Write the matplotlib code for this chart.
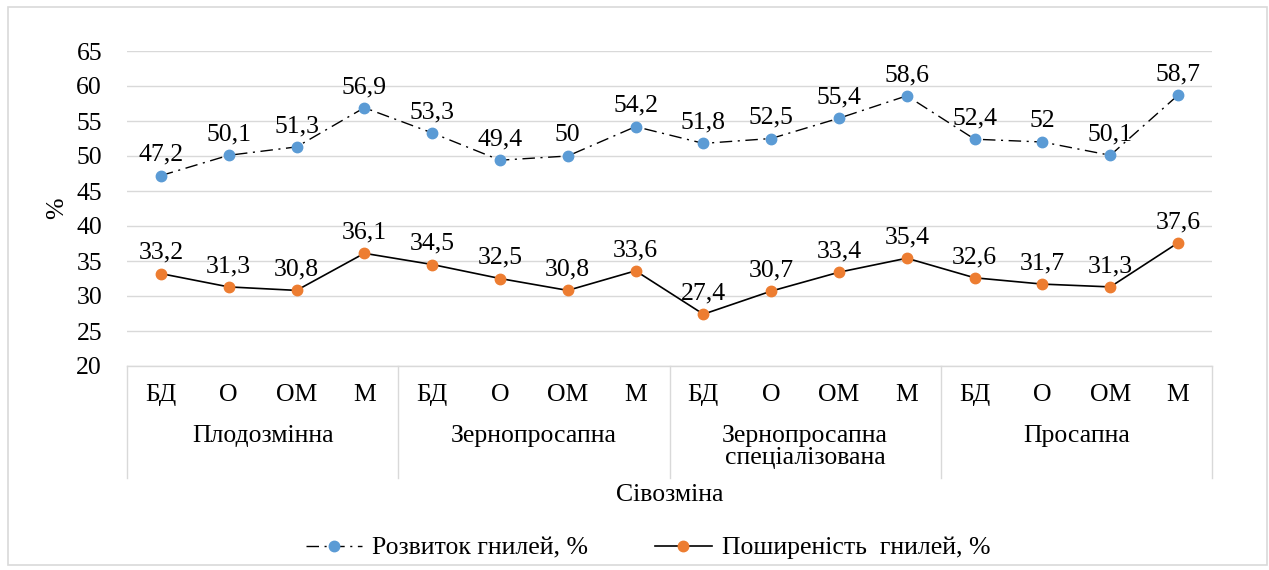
import matplotlib
matplotlib.use("Agg")
from matplotlib import pyplot as plt, transforms
from matplotlib.patches import Rectangle

plt.rcParams["font.family"] = ["Liberation Serif", "DejaVu Serif"]

# data
groups = ["Плодозмінна", "Зернопросапна", "Зернопросапна\nспеціалізована", "Просапна"]
variants = ["БД", "О", "ОМ", "М"]
rozvytok = [47.2, 50.1, 51.3, 56.9, 53.3, 49.4, 50, 54.2,
            51.8, 52.5, 55.4, 58.6, 52.4, 52, 50.1, 58.7]
poshyrenist = [33.2, 31.3, 30.8, 36.1, 34.5, 32.5, 30.8, 33.6,
               27.4, 30.7, 33.4, 35.4, 32.6, 31.7, 31.3, 37.6]
yticks = [20, 25, 30, 35, 40, 45, 50, 55, 60, 65]

BLUE = "#5B9BD5"
ORANGE = "#ED7D31"
GRID = "#D9D9D9"
FS = 18.5

fig = plt.figure(figsize=(12.69, 5.70), dpi=100)
ax = fig.add_axes([127 / 1269, 1 - 366 / 570, (1212 - 127) / 1269, (366 - 51) / 570])

x = list(range(len(rozvytok)))
ax.plot(x, rozvytok, color="black", lw=1, ls=(0, (9, 4, 1.5, 4)),
        marker="o", ms=7.5, mfc=BLUE, mec=BLUE, label="Розвиток гнилей, %")
ax.plot(x, poshyrenist, color="black", lw=1.2, ls="-",
        marker="o", ms=7.5, mfc=ORANGE, mec=ORANGE, label="Поширеність  гнилей, %")

for xi, v in zip(x, rozvytok):
    ax.annotate(f"{v:g}".replace(".", ","), (xi, v), xytext=(0, 7),
                textcoords="offset points", ha="center", va="bottom", fontsize=FS)
for xi, v in zip(x, poshyrenist):
    ax.annotate(f"{v:g}".replace(".", ","), (xi, v), xytext=(0, 7),
                textcoords="offset points", ha="center", va="bottom", fontsize=FS)

ax.set_xlim(-0.5, len(x) - 0.5)
ax.set_ylim(20, 65)
ax.set_yticks(yticks)
ax.tick_params(axis="y", length=0, labelsize=FS, pad=18)
ax.set_xticks([])
ax.grid(axis="y", color=GRID, lw=1)
ax.set_axisbelow(True)
for side in ["top", "right", "left"]:
    ax.spines[side].set_visible(False)
ax.spines["bottom"].set_color(GRID)
ax.spines["bottom"].set_linewidth(1)
ax.set_ylabel("%", fontsize=FS, labelpad=6)

# two-level category axis
trans = transforms.blended_transform_factory(ax.transData, ax.transAxes)
box_bottom = -112 / 315
for k in range(len(groups) + 1):
    xs = k * len(variants) - 0.5
    ax.plot([xs, xs], [0, box_bottom], color=GRID, lw=1,
            transform=trans, clip_on=False)
for g, name in enumerate(groups):
    for j, v in enumerate(variants):
        ax.text(g * len(variants) + j, -29 / 315, v, transform=trans,
                ha="center", va="center", fontsize=FS)
    ax.text(g * len(variants) + 1.5, -59 / 315, name, transform=trans,
            ha="center", va="top", fontsize=FS, linespacing=1.0)

fig.text((127 + 1212) / 2 / 1269, 1 - 495 / 570, "Сівозміна",
         ha="center", va="center", fontsize=FS)

fig.legend(loc="center", bbox_to_anchor=(648 / 1269, 1 - 548 / 570), ncol=2,
           frameon=False, fontsize=FS, handlelength=2.2, columnspacing=2.6,
           handletextpad=0.4)

fig.patches.append(Rectangle((8 / 1269, 5 / 570), 1259 / 1269, 558 / 570,
                             transform=fig.transFigure, fill=False,
                             edgecolor=GRID, lw=1.2))

fig.savefig("out.png", dpi=100)
